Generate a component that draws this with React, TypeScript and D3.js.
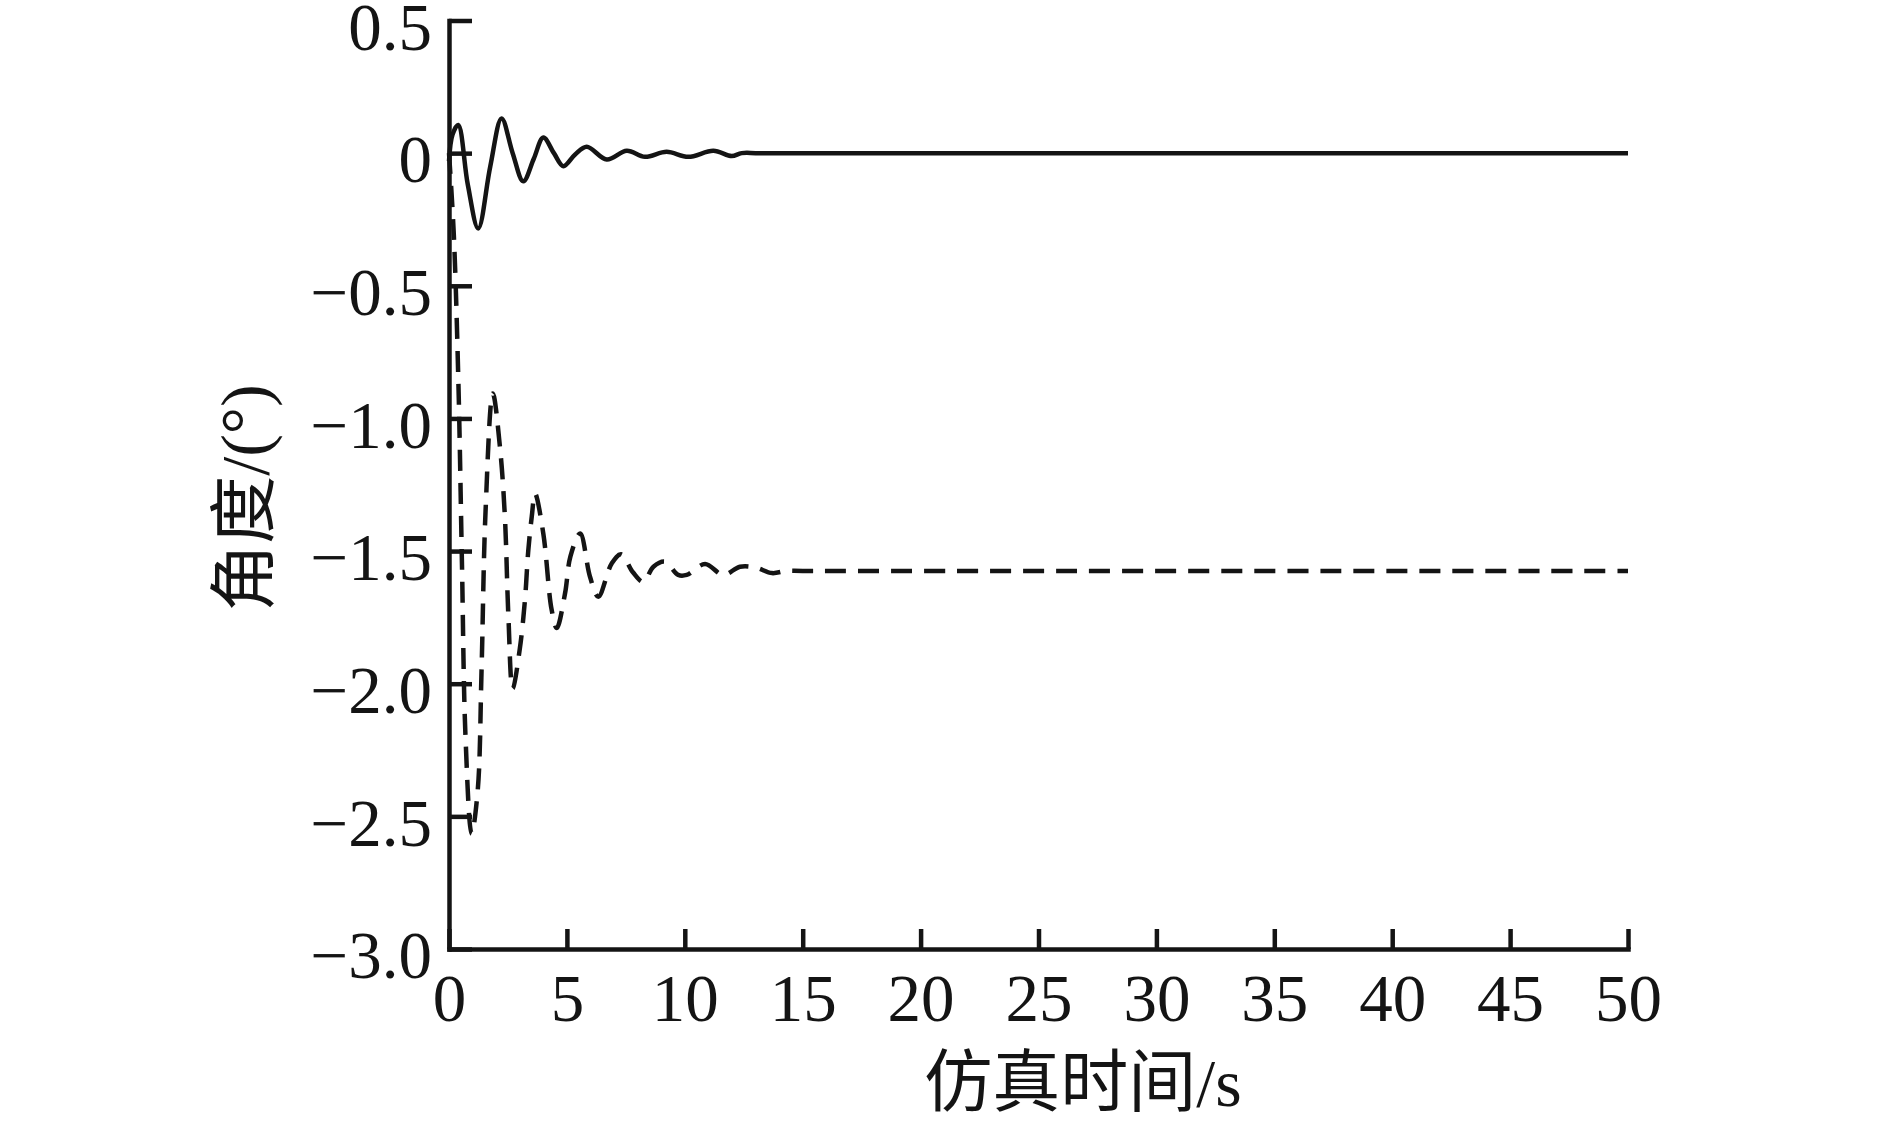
import React, { useEffect, useRef } from 'react';
import * as d3 from 'd3';

const W = 1889;
const H = 1123;

const xTicks = [0, 5, 10, 15, 20, 25, 30, 35, 40, 45, 50];
const yTicks = [0.5, 0, -0.5, -1.0, -1.5, -2.0, -2.5, -3.0];

// solid curve
const solidTime = [0, 0.15, 0.39, 0.8, 1.24, 1.75, 2.23, 2.7, 3.15, 3.6, 4.0, 4.45, 4.85, 5.35, 5.84, 6.69, 7.54, 8.31, 9.23, 10.15, 11.21, 11.99, 12.41, 13.2, 49, 50];
const solidAngle = [-0.03, 0.07, 0.106, -0.12, -0.284, -0.05, 0.131, 0.0, -0.106, -0.02, 0.059, 0.0, -0.049, -0.005, 0.024, -0.024, 0.009, -0.014, 0.005, -0.014, 0.009, -0.011, 0, 0, 0, 0];

// dashed curve
const dashTime = [0, 0.2, 0.4, 0.55, 0.7, 0.96, 1.22, 1.38, 1.55, 1.86, 2.16, 2.37, 2.52, 2.7, 3.0, 3.22, 3.36, 3.51, 3.65, 4.0, 4.35, 4.57, 4.92, 5.15, 5.56, 5.98, 6.33, 6.9, 7.3, 7.8, 8.24, 8.67, 9.16, 9.72, 10.08, 10.86, 11.63, 12.34, 13.0, 13.7, 14.3, 15.0, 49, 50];
const dashAngle = [0, -0.3, -0.87, -1.55, -2.2, -2.565, -2.4, -1.95, -1.35, -0.906, -1.107, -1.371, -1.748, -2.018, -1.87, -1.685, -1.5, -1.37, -1.283, -1.434, -1.72, -1.79, -1.66, -1.52, -1.434, -1.597, -1.672, -1.547, -1.512, -1.58, -1.616, -1.559, -1.54, -1.59, -1.59, -1.549, -1.59, -1.559, -1.562, -1.583, -1.575, -1.575, -1.575, -1.575];

const ink = '#141414';
const numFont = '"Liberation Serif", "Times New Roman", serif';
const titleFont = '"Liberation Serif", "Noto Sans CJK SC", serif';

export default function App() {
  const xAxisRef = useRef<SVGGElement>(null);
  const yAxisRef = useRef<SVGGElement>(null);

  const x = d3.scaleLinear().domain([0, 50]).range([449, 1628]);
  const y = d3.scaleLinear().domain([-3, 0.5]).range([949, 20.5]);

  const line = d3.line<[number, number]>()
    .x(d => x(d[0]))
    .y(d => y(d[1]))
    .curve(d3.curveCatmullRom.alpha(0.5));

  const solidPts = solidTime.map((t, i) => [t, solidAngle[i]] as [number, number]);
  const dashPts = dashTime.map((t, i) => [t, dashAngle[i]] as [number, number]);

  useEffect(() => {
    const fmtY = (d: number) => (d === 0 ? '0' : d3.format('.1f')(d));
    const gx = d3.select(xAxisRef.current!);
    gx.call(d3.axisBottom(x).tickValues(xTicks).tickSize(-20).tickSizeOuter(0).tickPadding(24).tickFormat(d3.format('d')) as any);
    const gy = d3.select(yAxisRef.current!);
    gy.call(d3.axisLeft(y).tickValues(yTicks).tickSize(-23).tickSizeOuter(0).tickPadding(17).tickFormat(fmtY as any) as any);
    gy.selectAll('.tick text').attr('dy', '0.43em');

    [gx, gy].forEach(g => {
      g.select('.domain').attr('stroke', ink).attr('stroke-width', 4.5).attr('stroke-linecap', 'square');
      g.selectAll('.tick line').attr('stroke', ink).attr('stroke-width', 4.5);
      g.selectAll('.tick text').attr('fill', ink).style('font-family', numFont).style('font-size', '67px');
    });
  }, []);

  return (
    <svg width={W} height={H} style={{ position: 'absolute', left: 0, top: 0, background: '#fff' }}>
      <path d={line(solidPts) || ''} fill="none" stroke={ink} strokeWidth={4.5} />
      <path d={line(dashPts) || ''} fill="none" stroke={ink} strokeWidth={4.5} strokeDasharray="21 12" />
      <g ref={xAxisRef} transform={`translate(0,${y(-3)})`} />
      <g ref={yAxisRef} transform={`translate(${x(0)},0)`} />
      <text x={1083} y={1106} textAnchor="middle" fill={ink} style={{ fontFamily: titleFont, fontSize: 68 }}>
        仿真时间/s
      </text>
      <text transform="translate(244,498) rotate(-90)" textAnchor="middle" dy="0.35em" fill={ink} style={{ fontFamily: titleFont, fontSize: 68 }}>
        角度/(°)
      </text>
    </svg>
  );
}
